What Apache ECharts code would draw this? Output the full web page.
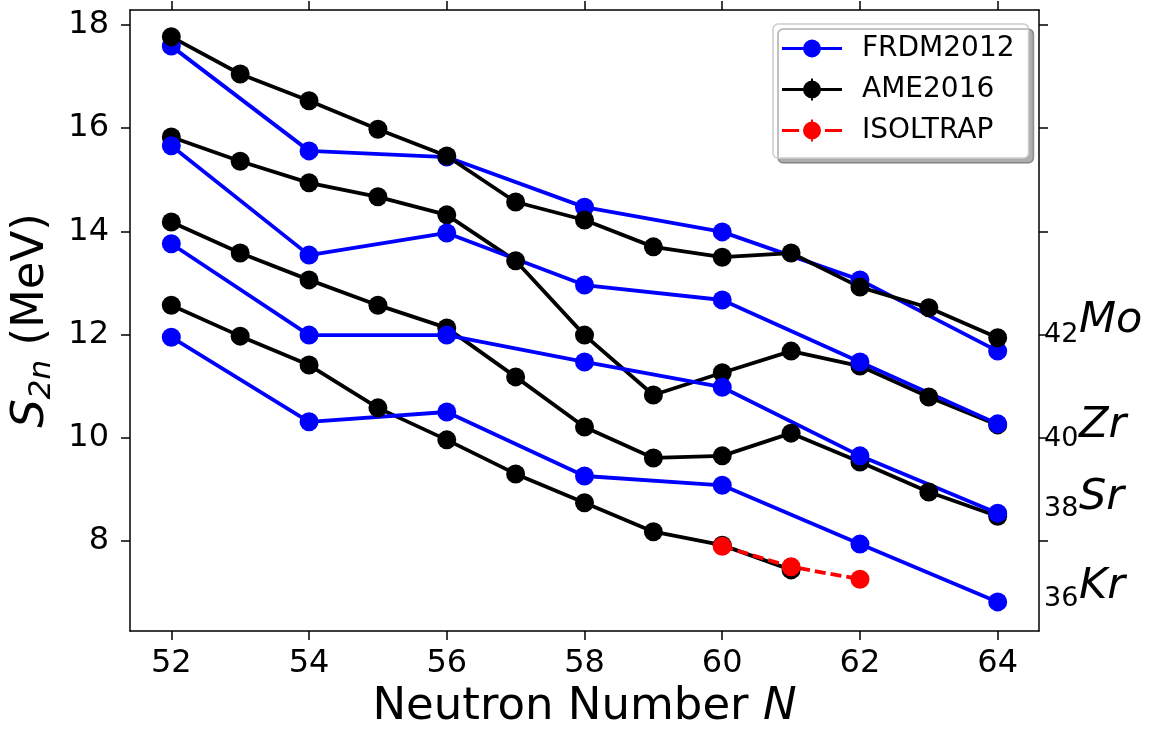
<!DOCTYPE html>
<html><head><meta charset="utf-8">
<script src="https://cdn.jsdelivr.net/npm/echarts@6/dist/echarts.min.js"></script>
<style>html,body{margin:0;padding:0;background:#fff}#c{width:1150px;height:733px}</style>
</head><body><div id="c"></div>
<script>
// ---- data ----
const N_AME = [52,53,54,55,56,57,58,59,60,61,62,63,64];
const N_AME_Kr = [52,53,54,55,56,57,58,59,60,61];
const N_FRDM = [52,54,56,58,60,62,64];
const N_ISOLTRAP = [60,61,62];

const Mo_AME = [17.77,17.05,16.53,15.98,15.46,14.57,14.22,13.70,13.50,13.58,12.92,12.52,11.94];
const Mo_FRDM = [17.59,15.56,15.44,14.47,13.99,13.06,11.68];
const Zr_AME = [15.83,15.36,14.94,14.67,14.32,13.43,11.99,10.83,11.26,11.68,11.39,10.79,10.25];
const Zr_FRDM = [15.66,13.54,13.97,12.96,12.67,11.47,10.27];
const Sr_AME = [14.18,13.58,13.06,12.57,12.13,11.18,10.21,9.61,9.65,10.09,9.53,8.95,8.48];
const Sr_FRDM = [13.76,11.99,11.99,11.47,10.98,9.65,8.54];
const Kr_AME = [12.57,11.97,11.41,10.58,9.96,9.30,8.74,8.18,7.92,7.44];
const Kr_FRDM = [11.95,10.31,10.50,9.26,9.08,7.94,6.82];
const Kr_ISOLTRAP = [7.90,7.50,7.26];

const xTicks = [52,54,56,58,60,62,64];
const yTicks = [8,10,12,14,16,18];
const elementLabels = [
  {z:'42', el:'Mo'}, {z:'40', el:'Zr'}, {z:'38', el:'Sr'}, {z:'36', el:'Kr'}
];

// ---- build ----
const FONT = 'DejaVu Sans';
const zip = (xs, ys) => xs.map((x,i)=>[x, ys[i]]);
const BLUE = '#0000ff', BLACK = '#000000', RED = '#ff0000';

function lineSeries(name, xs, ys, color, dashed) {
  return {
    name, type:'line', data: zip(xs, ys),
    symbol:'circle', symbolSize:19,
    itemStyle:{color},
    lineStyle:{color, width:3.8, type: dashed ? [11,5] : 'solid'},
    emphasis:{disabled:true}, animation:false
  };
}

const series = [
  lineSeries('FRDM2012', N_FRDM, Mo_FRDM, BLUE),
  lineSeries('AME2016', N_AME, Mo_AME, BLACK),
  lineSeries('AME2016', N_AME, Zr_AME, BLACK),
  lineSeries('FRDM2012', N_FRDM, Zr_FRDM, BLUE),
  lineSeries('AME2016', N_AME, Sr_AME, BLACK),
  lineSeries('FRDM2012', N_FRDM, Sr_FRDM, BLUE),
  lineSeries('AME2016', N_AME_Kr, Kr_AME, BLACK),
  lineSeries('FRDM2012', N_FRDM, Kr_FRDM, BLUE),
  lineSeries('ISOLTRAP', N_ISOLTRAP, Kr_ISOLTRAP, RED, true)
];

const circ = 'M30 2A9 9 0 1 1 30 20A9 9 0 1 1 30 2Z';
const iconFRDM = 'path://M0 9.5H60V12.5H0Z ' + circ;
const iconAME = 'path://M0 9.5H60V12.5H0Z M29 0H31V22H29Z ' + circ;
const iconISO = 'path://M0 9.5H17V12.5H0Z M43 9.5H60V12.5H43Z M29 0H31V22H29Z ' + circ;

const axisLineStyle = {color:'#000', width:1.5};
const labelStyle = {fontFamily:FONT, fontSize:32, color:'#000'};

const labelY = [
  {sub:335, main:321}, {sub:439, main:426}, {sub:509, main:498}, {sub:599, main:587}
];
const graphic = [];
elementLabels.forEach((e,i)=>{
  graphic.push({type:'text', x:1044, y:labelY[i].sub,
    style:{text:e.z, fontFamily:FONT, fontSize:27, fill:'#000', verticalAlign:'middle', textAlign:'left'}});
  graphic.push({type:'text', x:1079, y:labelY[i].main,
    style:{text:e.el, fontFamily:FONT, fontSize:43, fontStyle:'italic', fill:'#000', verticalAlign:'middle', textAlign:'left'}});
});

const option = {
  animation:false,
  backgroundColor:'#fff',
  grid:{left:130, top:10, right:111, bottom:102, containLabel:false, outerBoundsMode:'none'},
  legend:{
    show:true, orient:'vertical', left:773, top:24,
    data:[{name:'FRDM2012', icon:iconFRDM},{name:'AME2016', icon:iconAME},{name:'ISOLTRAP', icon:iconISO}],
    itemWidth:60, itemHeight:22, itemGap:10,
    padding:[9,14,12,9],
    backgroundColor:'#fff', borderColor:'#cccccc', borderWidth:1.5, borderRadius:5,
    shadowColor:'rgba(0,0,0,0.32)', shadowOffsetX:5, shadowOffsetY:5, shadowBlur:0,
    textStyle:{fontFamily:FONT, fontSize:28, color:'#000', lineHeight:31, padding:[0,0,0,15]},
    selectedMode:false
  },
  xAxis:[
    {type:'value', position:'bottom', min:51.4, max:64.6,
     axisLine:{show:true, onZero:false, lineStyle:axisLineStyle},
     axisTick:{show:true, inside:false, length:9, lineStyle:axisLineStyle, customValues:xTicks},
     axisLabel:Object.assign({show:true, margin:17, customValues:xTicks}, labelStyle),
     splitLine:{show:false},
     name:'{a|Neutron Number }{i|N}', nameLocation:'middle', nameGap:46,
     nameTextStyle:{rich:{a:{fontFamily:FONT, fontSize:45, color:'#000'}, i:{fontFamily:FONT, fontSize:45, fontStyle:'italic', color:'#000'}}}
    },
    {type:'value', position:'top', min:51.4, max:64.6,
     axisLine:{show:true, onZero:false, lineStyle:axisLineStyle},
     axisTick:{show:true, inside:false, length:9, lineStyle:axisLineStyle, customValues:xTicks},
     axisLabel:{show:false}, splitLine:{show:false}}
  ],
  yAxis:[
    {type:'value', position:'left', min:6.256, max:18.29,
     axisLine:{show:true, onZero:false, lineStyle:axisLineStyle},
     axisTick:{show:true, inside:false, length:9, lineStyle:axisLineStyle, customValues:yTicks},
     axisLabel:Object.assign({show:true, margin:21, customValues:yTicks}, labelStyle),
     splitLine:{show:false},
     name:'{s|S}{sub|2n}{r| (MeV)}', nameLocation:'middle', nameGap:60, nameRotate:90,
     nameTextStyle:{rich:{
       s:{fontFamily:FONT, fontSize:45, fontStyle:'italic', color:'#000', lineHeight:52, verticalAlign:'middle'},
       sub:{fontFamily:FONT, fontSize:31, fontStyle:'italic', color:'#000', lineHeight:24, verticalAlign:'bottom'},
       r:{fontFamily:FONT, fontSize:45, color:'#000', lineHeight:52, verticalAlign:'middle'}
     }}
    },
    {type:'value', position:'right', min:6.256, max:18.29,
     axisLine:{show:true, onZero:false, lineStyle:axisLineStyle},
     axisTick:{show:true, inside:false, length:9, lineStyle:axisLineStyle, customValues:yTicks},
     axisLabel:{show:false}, splitLine:{show:false}}
  ],
  series,
  graphic
};

const chart = echarts.init(document.getElementById('c'), null, {renderer:'canvas'});
chart.setOption(option);
</script>
</body></html>
